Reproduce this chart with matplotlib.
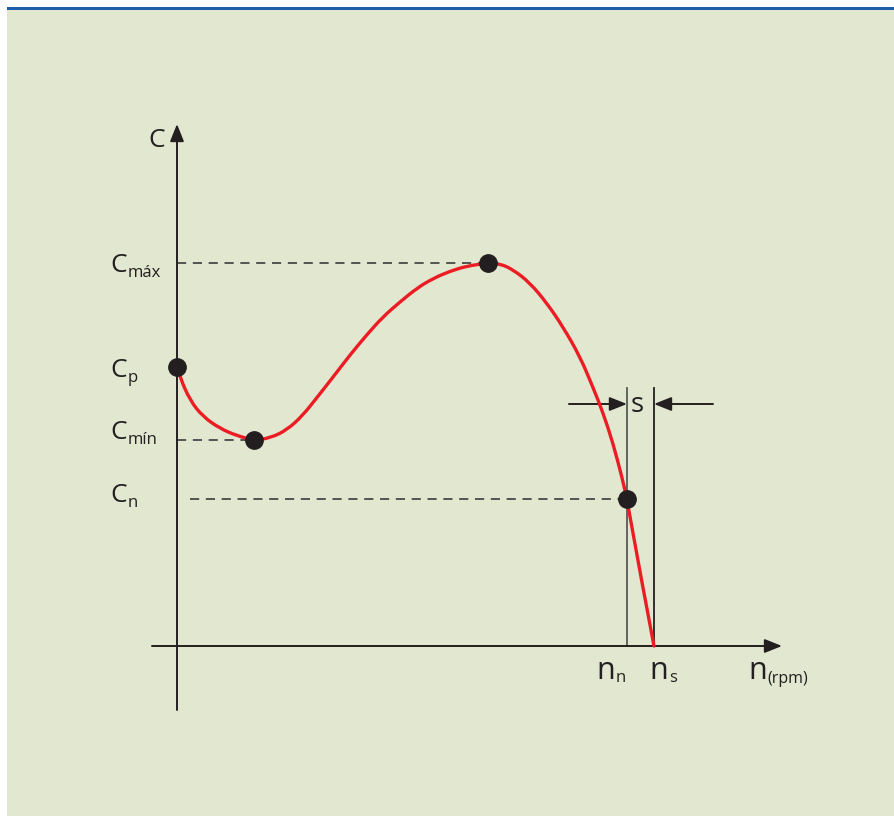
import matplotlib
matplotlib.use("Agg")
import matplotlib.pyplot as plt
from matplotlib.patches import Rectangle, PathPatch
from matplotlib.path import Path
from matplotlib.transforms import Affine2D

plt.rcParams["font.family"] = ["Open Sans", "DejaVu Sans"]

# torque / speed curve of an induction motor
speed = [0, 9, 41, 82, 135, 189, 242, 293, 346, 396, 440, 491, 544, 598, 648,
         701, 755, 805, 859, 912, 978, 1016, 1057, 1110, 1164, 1214, 1267,
         1308, 1340, 1371, 1399, 1415, 1456, 1500]
torque = [190, 183, 167, 156, 148, 143, 140, 141.5, 147, 157, 169, 183, 198,
          212, 224, 234, 243.5, 250, 255, 258.5, 260.5, 260, 256, 247, 233,
          217, 197, 176, 158.5, 138, 115, 100, 50, 0]

# characteristic points
C_P = 190
N_MIN, C_MIN = 242, 140
N_MAX, C_MAX = 978, 260.5
N_N, C_N = 1415, 100
N_S = 1500

W, H = 895, 816
BG = "#e2e7d0"
BLUE = "#1d5ea6"
INK = "#231f20"
RED = "#ec1c24"

# pixel layout of the plot area
X0, Y0 = 177, 646          # origin
SX, SY = 0.318, 1.47       # pixels per rpm / per torque unit


def dx(px):
    return (px - X0) / SX


def dy(py):
    return (Y0 - py) / SY


fig = plt.figure(figsize=(W / 100, H / 100), dpi=100)
fig.patch.set_facecolor("white")
fig.patches.append(Rectangle((7 / W, 0), 1, (H - 10) / H, transform=fig.transFigure,
                             facecolor=BG, edgecolor="none", zorder=-2))
fig.patches.append(Rectangle((7 / W, (H - 10) / H), 1, 3.5 / H, transform=fig.transFigure,
                             facecolor=BLUE, edgecolor="none", zorder=-2))

ax = fig.add_axes([0, 0, 1, 1])
ax.set_xlim(dx(0), dx(W))
ax.set_ylim(dy(H), dy(0))
ax.axis("off")
ax.patch.set_alpha(0)

pix = Affine2D().scale(1, -1).translate(0, H)

head = "-|>,head_length=1.05,head_width=0.42"
arrow = dict(arrowstyle=head, color=INK, lw=1.4, shrinkA=0, shrinkB=0)

# axes with arrow heads
ax.annotate("", xy=(0, dy(124)), xytext=(0, dy(710)), arrowprops=arrow)
ax.annotate("", xy=(dx(782), 0), xytext=(dx(152), 0), arrowprops=arrow)

# guide lines to the vertical axis
dash = dict(color="#3c3c3e", lw=1.2, dashes=(5.5, 4))
ax.plot([0, N_MAX], [C_MAX, C_MAX], **dash)
ax.plot([0, N_MIN], [C_MIN, C_MIN], **dash)
ax.plot([dx(190), N_N], [C_N, C_N], **dash)

# rated and synchronous speed markers
ax.plot([N_N, N_N], [0, dy(388)], color="#58595b", lw=1.3)
ax.plot([N_S, N_S], [0, dy(388)], color=INK, lw=1.3)

# slip arrows
s_y = dy(404)
ax.annotate("", xy=(N_N, s_y), xytext=(N_N - 58 / SX, s_y), arrowprops=arrow)
ax.annotate("", xy=(N_S, s_y), xytext=(N_S + 59 / SX, s_y), arrowprops=arrow)

# smooth the curve with quadratic segments between midpoints
pts = list(zip(speed, torque))
verts = [pts[0]]
codes = [Path.MOVETO]
for i in range(1, len(pts) - 1):
    mid = ((pts[i][0] + pts[i + 1][0]) / 2, (pts[i][1] + pts[i + 1][1]) / 2)
    end = mid if i < len(pts) - 2 else pts[-1]
    verts += [pts[i], end]
    codes += [Path.CURVE3, Path.CURVE3]
ax.add_patch(PathPatch(Path(verts, codes), facecolor="none", edgecolor=RED,
                       lw=2.4, capstyle="round", zorder=3))

ax.plot([0, N_MIN, N_MAX, N_N], [C_P, C_MIN, C_MAX, C_N], "o", color=INK,
        ms=12.5, zorder=4)

# labels
renderer = fig.canvas.get_renderer()


def label(x, y, main, sub=None, size=19, sub_size=12, drop=5):
    t = ax.text(x, y, main, transform=pix, color=INK, fontsize=size,
                va="baseline", ha="left")
    if sub:
        bb = t.get_window_extent(renderer)
        ax.text(bb.x1 + 1, y + drop, sub, transform=pix, color=INK,
                fontsize=sub_size, va="baseline", ha="left")


label(148, 147, "C")
label(110, 272, "C", "máx")
label(110, 377, "C", "p")
label(110, 439, "C", "mín")
label(110, 502, "C", "n")
label(631, 412, "s", size=20)

label(596, 679, "n", "n", size=22, drop=3)
label(649, 679, "n", "s", size=22, drop=3)
label(748, 679, "n", "(rpm)", size=22, sub_size=11.5, drop=4)

fig.savefig("out.png", dpi=100, facecolor=fig.get_facecolor())
